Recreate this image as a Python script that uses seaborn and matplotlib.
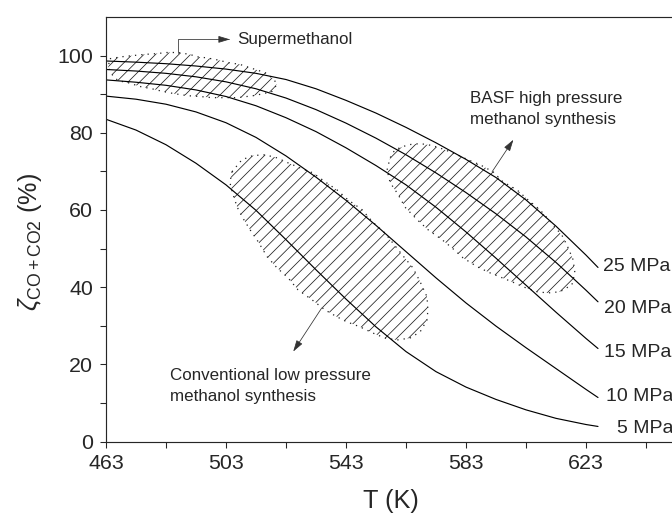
"""Equilibrium CO+CO2 conversion vs temperature for methanol synthesis."""
import matplotlib
matplotlib.use("Agg")
import matplotlib.pyplot as plt
from matplotlib.patches import Polygon
from matplotlib.ticker import AutoMinorLocator
import pandas as pd
import seaborn as sns

# temperature grid (K) and conversion (%)
temperature = [463, 473, 483, 493, 503, 513, 523, 533, 543, 553, 563, 573, 583, 593, 603, 613, 623, 627]
conv_25 = [98.6, 98.3, 97.9, 97.3, 96.5, 95.4, 93.8, 91.4, 88.4, 85.1, 81.4, 77.4, 73.1, 68.4, 62.6, 55.8, 48.3, 45.1]
conv_20 = [96.4, 96.0, 95.4, 94.5, 93.2, 91.4, 89.0, 86.0, 82.5, 78.6, 74.3, 69.6, 64.5, 59.0, 53.0, 46.4, 39.2, 36.2]
conv_15 = [93.7, 93.1, 92.3, 91.1, 89.4, 87.0, 83.9, 80.3, 76.1, 71.5, 66.5, 60.7, 54.3, 47.5, 40.5, 33.5, 26.7, 24.1]
conv_10 = [89.5, 88.7, 87.4, 85.4, 82.6, 78.8, 74.0, 68.5, 62.5, 56.0, 49.2, 42.4, 35.9, 29.9, 24.3, 18.9, 13.5, 11.4]
conv_5 = [83.5, 80.7, 76.9, 72.1, 66.5, 59.9, 52.3, 44.5, 36.9, 29.7, 23.3, 18.1, 14.1, 10.9, 8.2, 6.0, 4.4, 3.9]

pressures = ["25 MPa", "20 MPa", "15 MPa", "10 MPa", "5 MPa"]
label_T = [628.8, 629.0, 629.1, 629.7, 633.4]
label_y = [44.3, 33.4, 21.8, 10.5, 2.1]

x_ticks = [463, 503, 543, 583, 623]
y_ticks = [0, 20, 40, 60, 80, 100]
y_minor = [10, 30, 50, 70, 90]

# outlines of the operating windows (T in K, conversion in %)
super_T = [464.3, 468.3, 472.0, 475.7, 479.7, 483.3, 487.0, 491.0, 493.3, 496.7, 500.0, 503.7, 507.7, 512.0,
           516.0, 518.7, 520.0, 519.3, 518.3, 515.3, 512.0, 507.0, 502.0, 498.3, 494.3, 490.3, 486.0, 482.0,
           478.3, 474.3, 470.3, 467.0, 465.0, 463.7]
super_y = [99.2, 99.7, 100.0, 100.3, 100.5, 100.8, 100.8, 100.3, 99.7, 99.4, 98.9, 98.2, 97.7, 96.6,
           95.6, 94.0, 92.7, 91.7, 90.7, 90.1, 89.6, 89.1, 89.1, 89.1, 89.4, 89.6, 90.1, 90.7,
           91.4, 92.0, 93.0, 93.5, 95.1, 96.9]
basf_T = [556.7, 557.7, 559.3, 563.7, 567.7, 571.7, 576.0, 580.0, 583.7, 587.7, 592.0, 595.3, 600.0, 603.7,
          607.7, 611.0, 615.0, 616.7, 618.7, 619.3, 618.3, 614.3, 610.3, 606.7, 602.0, 598.3, 591.0, 586.7,
          582.0, 578.3, 575.0, 570.3, 566.7, 562.7, 560.3, 557.7]
basf_y = [70.4, 73.5, 75.6, 76.9, 77.2, 76.7, 75.6, 74.3, 73.0, 71.7, 69.9, 67.3, 65.2, 62.6,
          60.0, 57.1, 53.4, 50.8, 47.1, 43.7, 40.6, 38.8, 38.5, 38.8, 40.1, 41.4, 43.7, 45.3,
          47.6, 50.2, 52.3, 54.9, 57.5, 60.7, 64.1, 67.1]
lowp_T = [505.0, 508.3, 512.0, 516.0, 520.0, 523.7, 527.7, 532.0, 536.0, 540.0, 543.7, 548.3, 552.0, 556.0,
          561.7, 565.3, 567.7, 570.0, 570.3, 570.0, 567.7, 564.3, 560.0, 556.0, 552.0, 547.7, 543.3, 540.0,
          536.0, 531.7, 527.0, 523.7, 520.0, 516.7, 513.7, 511.0, 508.3, 506.7, 505.3, 504.3]
lowp_y = [69.9, 73.0, 74.1, 74.3, 73.5, 72.2, 70.9, 69.6, 67.3, 65.2, 62.6, 60.1, 56.8, 54.0,
          48.4, 45.0, 41.4, 37.5, 34.1, 31.5, 28.4, 26.8, 26.3, 26.8, 28.1, 29.7, 31.0, 32.3,
          34.1, 36.7, 39.3, 42.4, 45.0, 47.9, 51.8, 54.9, 58.3, 60.8, 64.1, 67.1]

sns.set_style("ticks")
plt.rcParams["font.family"] = ["Liberation Sans", "DejaVu Sans"]
plt.rcParams["mathtext.fontset"] = "custom"
plt.rcParams["mathtext.rm"] = "Liberation Sans"
plt.rcParams["mathtext.it"] = "Liberation Sans:italic"
plt.rcParams["hatch.linewidth"] = 0.8

df = pd.DataFrame({
    "T": temperature * 5,
    "conv": conv_25 + conv_20 + conv_15 + conv_10 + conv_5,
    "P": [p for p in pressures for _ in temperature],
})

fig = plt.figure(figsize=(9.6, 515 / 70), dpi=70)
ax = fig.add_axes([106 / 672, 73.5 / 515, 570 / 672, 424.5 / 515])

for xs, ys in [(super_T, super_y), (basf_T, basf_y), (lowp_T, lowp_y)]:
    ax.add_patch(Polygon(list(zip(xs, ys)), closed=True, fill=False, hatch="//",
                         edgecolor="#222222", linestyle=(0, (1, 4)), linewidth=1.3, zorder=1))

sns.lineplot(data=df, x="T", y="conv", hue="P", palette=["black"] * 5, estimator=None,
             legend=False, linewidth=1.2, ax=ax, zorder=2)

for p, tx, ty in zip(pressures, label_T, label_y):
    ax.text(tx, ty, p, fontsize=20, va="baseline", ha="left")

arrow = dict(arrowstyle="-|>,head_length=1.0,head_width=0.3", color="#333333", lw=0.8,
             shrinkA=0, shrinkB=0, mutation_scale=10)
ax.annotate("", xy=(504.3, 104.2), xytext=(487.1, 100.7),
            arrowprops=dict(arrow, connectionstyle="angle,angleA=90,angleB=0,rad=0"))
ax.text(506.6, 103.0, "Supermethanol", fontsize=17.5, va="baseline")

ax.annotate("", xy=(598.8, 78.2), xytext=(591.7, 69.9), arrowprops=arrow)
ax.text(584.3, 90.9, "BASF high pressure\nmethanol synthesis", fontsize=17.5, va="top",
        linespacing=1.5)

ax.annotate("", xy=(525.4, 23.3), xytext=(534.9, 34.6), arrowprops=arrow)
ax.text(484.3, 19.0, "Conventional low pressure\nmethanol synthesis", fontsize=17.5, va="top",
        linespacing=1.5)

ax.set_xlim(463, 653)
ax.set_ylim(0, 110)
ax.set_xticks(x_ticks)
ax.set_yticks(y_ticks)
ax.set_yticks(y_minor, minor=True)
ax.xaxis.set_minor_locator(AutoMinorLocator(2))
ax.tick_params(which="both", direction="out", length=6, width=1.1, labelsize=22)
ax.tick_params(axis="x", pad=7)
ax.tick_params(axis="y", pad=7)
for s in ax.spines.values():
    s.set_linewidth(1.2)

ax.set_xlabel("T (K)", fontsize=26)
ax.set_ylabel(r"$\zeta_{\mathrm{CO+CO2}}$ (%)", fontsize=26)
ax.xaxis.set_label_coords(0.5, -0.112)
ax.yaxis.set_label_coords(-0.109, 0.47)

fig.savefig("out.png", dpi=70)
plt.close(fig)
